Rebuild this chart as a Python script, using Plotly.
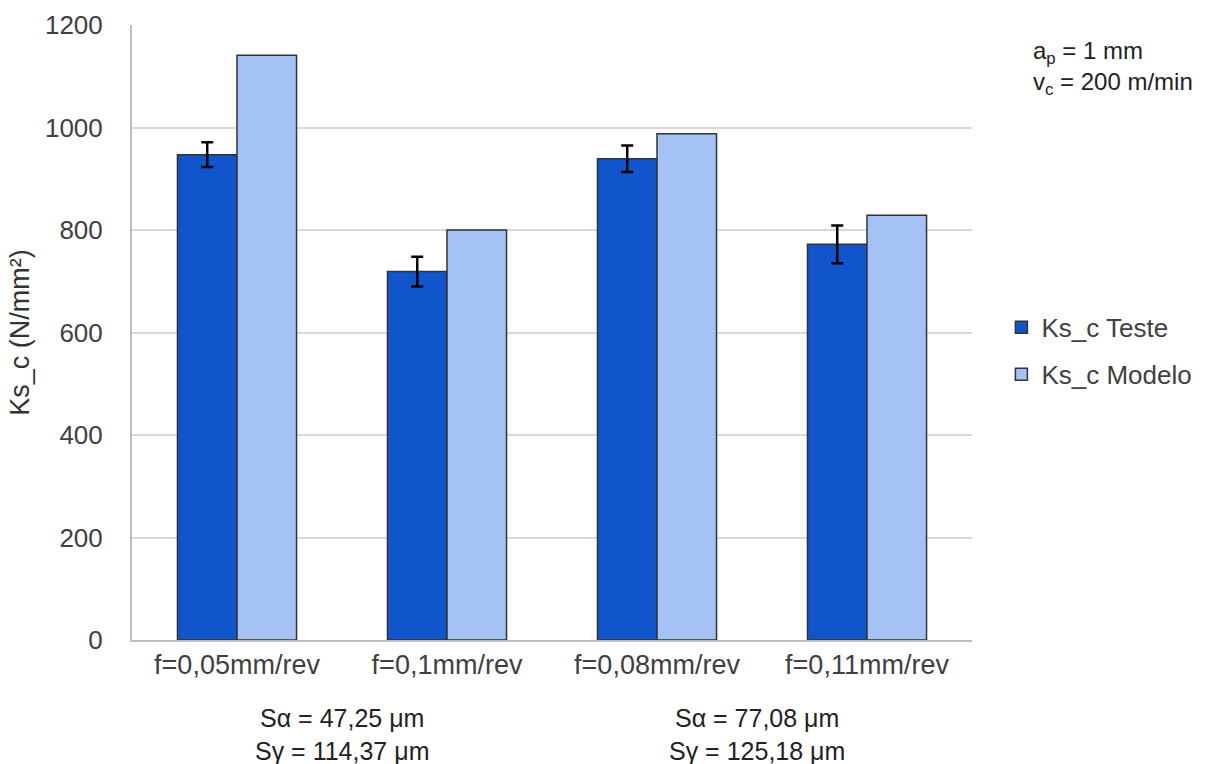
import plotly.graph_objects as go

categories = ["f=0,05mm/rev", "f=0,1mm/rev", "f=0,08mm/rev", "f=0,11mm/rev"]
teste = [947, 719, 939, 772]
teste_err = [24, 29, 26, 37]
modelo = [1141, 800, 988, 829]
y_ticks = [0, 200, 400, 600, 800, 1000, 1200]

FONT = "Liberation Sans, Arial, sans-serif"

fig = go.Figure()
fig.add_trace(go.Bar(
    name="Ks_c Teste", x=categories, y=teste, legendgroup="a",
    marker=dict(color="#1155CC", line=dict(color="#333333", width=1.5)),
    error_y=dict(type="data", array=teste_err, visible=True, color="black", thickness=2.5, width=6),
))
fig.add_trace(go.Bar(
    name="Ks_c Modelo", x=categories, y=modelo, legendgroup="b",
    marker=dict(color="#A4C2F4", line=dict(color="#333333", width=1.5)),
))

fig.update_layout(
    width=1205, height=764,
    margin=dict(l=132, r=233, t=25, b=124, autoexpand=False),
    paper_bgcolor="white", plot_bgcolor="white",
    barmode="group", bargap=0.433, bargroupgap=0,
    font=dict(family=FONT, size=26, color="#404040"),
    showlegend=True,
    legend=dict(x=1.035, y=0.47, xanchor="left", yanchor="middle",
                font=dict(size=26, color="#404040"), traceorder="grouped", tracegroupgap=10,
                itemwidth=30),
    xaxis=dict(showline=True, linecolor="#bfbfbf", linewidth=2, ticks="",
               tickfont=dict(size=27, color="#404040")),
    yaxis=dict(range=[0, 1200], tickvals=y_ticks, showgrid=True, gridcolor="#d9d9d9", gridwidth=1.5,
               showline=True, linecolor="#bfbfbf", linewidth=2, zeroline=False,
               ticks="outside", ticklen=22, tickcolor="rgba(0,0,0,0)",
               tickfont=dict(size=26, color="#404040"),
               title=dict(text="Ks_c (N/mm²)", font=dict(size=27, color="#333333"), standoff=8)),
    annotations=[
        dict(text="a<sub>p</sub> = 1 mm<br>v<sub>c</sub> = 200 m/min", xref="paper", yref="paper",
             x=1.07, y=0.983, xanchor="left", yanchor="top", align="left", showarrow=False,
             font=dict(size=24, color="#222222")),
        dict(text="Sα = 47,25 μm<br>Sγ = 114,37 μm", xref="paper", yref="paper",
             x=(342 - 132) / 840, y=-0.1, xanchor="center", yanchor="top", align="center",
             showarrow=False, font=dict(size=25, color="#222222")),
        dict(text="Sα = 77,08 μm<br>Sγ = 125,18 μm", xref="paper", yref="paper",
             x=(757 - 132) / 840, y=-0.1, xanchor="center", yanchor="top", align="center",
             showarrow=False, font=dict(size=25, color="#222222")),
    ],
)

fig.write_html("out.html")
